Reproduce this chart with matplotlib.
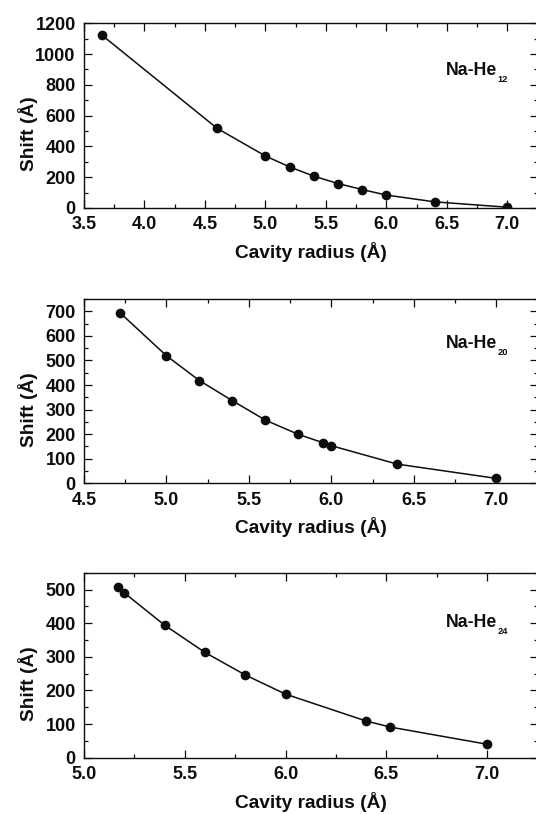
import matplotlib
matplotlib.use("Agg")
import matplotlib.pyplot as plt
from matplotlib.ticker import MultipleLocator

plt.rcParams['font.family'] = ['Liberation Sans', 'DejaVu Sans']
plt.rcParams['font.weight'] = 'bold'

# ---- data ----
r12 = [3.65, 4.6, 5.0, 5.2, 5.4, 5.6, 5.8, 6.0, 6.4, 7.0]
s12 = [1122, 518, 338, 267, 207, 159, 120, 84, 40, 5]

r20 = [4.72, 5.0, 5.2, 5.4, 5.6, 5.8, 5.95, 6.0, 6.4, 7.0]
s20 = [693, 519, 418, 336, 257, 199, 165, 153, 78, 20]

r24 = [5.17, 5.2, 5.4, 5.6, 5.8, 6.0, 6.4, 6.52, 7.0]
s24 = [508, 490, 394, 313, 246, 189, 109, 91, 40]

labels = ["12", "20", "24"]
xlims = [(3.5, 7.25), (4.5, 7.25), (5.0, 7.25)]
ylims = [(0, 1200), (0, 750), (0, 550)]
ymajor = [200, 100, 100]
yminor = [100, 50, 50]

W, H = 536, 814
fig = plt.figure(figsize=(W / 100, H / 100), dpi=100)

# axes frames in pixels: (top, bottom)
frames = [(23.3, 208.0), (299.0, 483.3), (572.7, 757.7)]
left_px, right_px = 84.0, 537.5
label_y = [0.72, 0.7325, 0.708]

ink = '#0d0d0d'
series = [(r12, s12), (r20, s20), (r24, s24)]

for i, ((top, bot), (xs, ys)) in enumerate(zip(frames, series)):
    ax = fig.add_axes([left_px / W, 1 - bot / H, (right_px - left_px) / W, (bot - top) / H])
    ax.plot(xs, ys, '-o', color=ink, lw=1.1, markersize=7, markeredgewidth=0)
    ax.set_xlim(*xlims[i])
    ax.set_ylim(*ylims[i])
    ax.xaxis.set_major_locator(MultipleLocator(0.5))
    ax.xaxis.set_minor_locator(MultipleLocator(0.25))
    ax.yaxis.set_major_locator(MultipleLocator(ymajor[i]))
    ax.yaxis.set_minor_locator(MultipleLocator(yminor[i]))
    ax.xaxis.set_major_formatter(plt.FormatStrFormatter('%.1f'))
    ax.tick_params(which='both', direction='in', top=True, right=True,
                   width=0.9, colors=ink, labelsize=13)
    ax.tick_params(which='major', length=5.8)
    ax.tick_params(which='minor', length=2.9)
    ax.tick_params(axis='x', pad=6)
    ax.tick_params(axis='y', pad=6)
    for sp in ax.spines.values():
        sp.set_linewidth(1.0)
        sp.set_color(ink)
    for t in ax.get_xticklabels() + ax.get_yticklabels():
        t.set_fontweight('bold')

    ax.set_xlabel('Cavity radius (Å)', fontsize=13.8, fontweight='bold', color=ink)
    ax.xaxis.label.set_va('baseline')
    ax.xaxis.set_label_coords(0.5, -0.272)
    ax.set_ylabel('Shift (Å)', fontsize=13.8, fontweight='bold', color=ink)
    ax.yaxis.label.set_va('baseline')
    ax.yaxis.set_label_coords(-0.110, 0.40)

    main = ax.text(0.797, label_y[i], 'Na-He', transform=ax.transAxes,
                   fontsize=12.7, fontweight='bold', color=ink,
                   ha='left', va='baseline')
    ax.annotate(labels[i], xy=(1, 0), xycoords=main, xytext=(0.5, -3),
                textcoords='offset pixels', fontsize=6.7, fontweight='bold',
                color=ink, ha='left', va='baseline')

fig.savefig('out.png', dpi=100)
